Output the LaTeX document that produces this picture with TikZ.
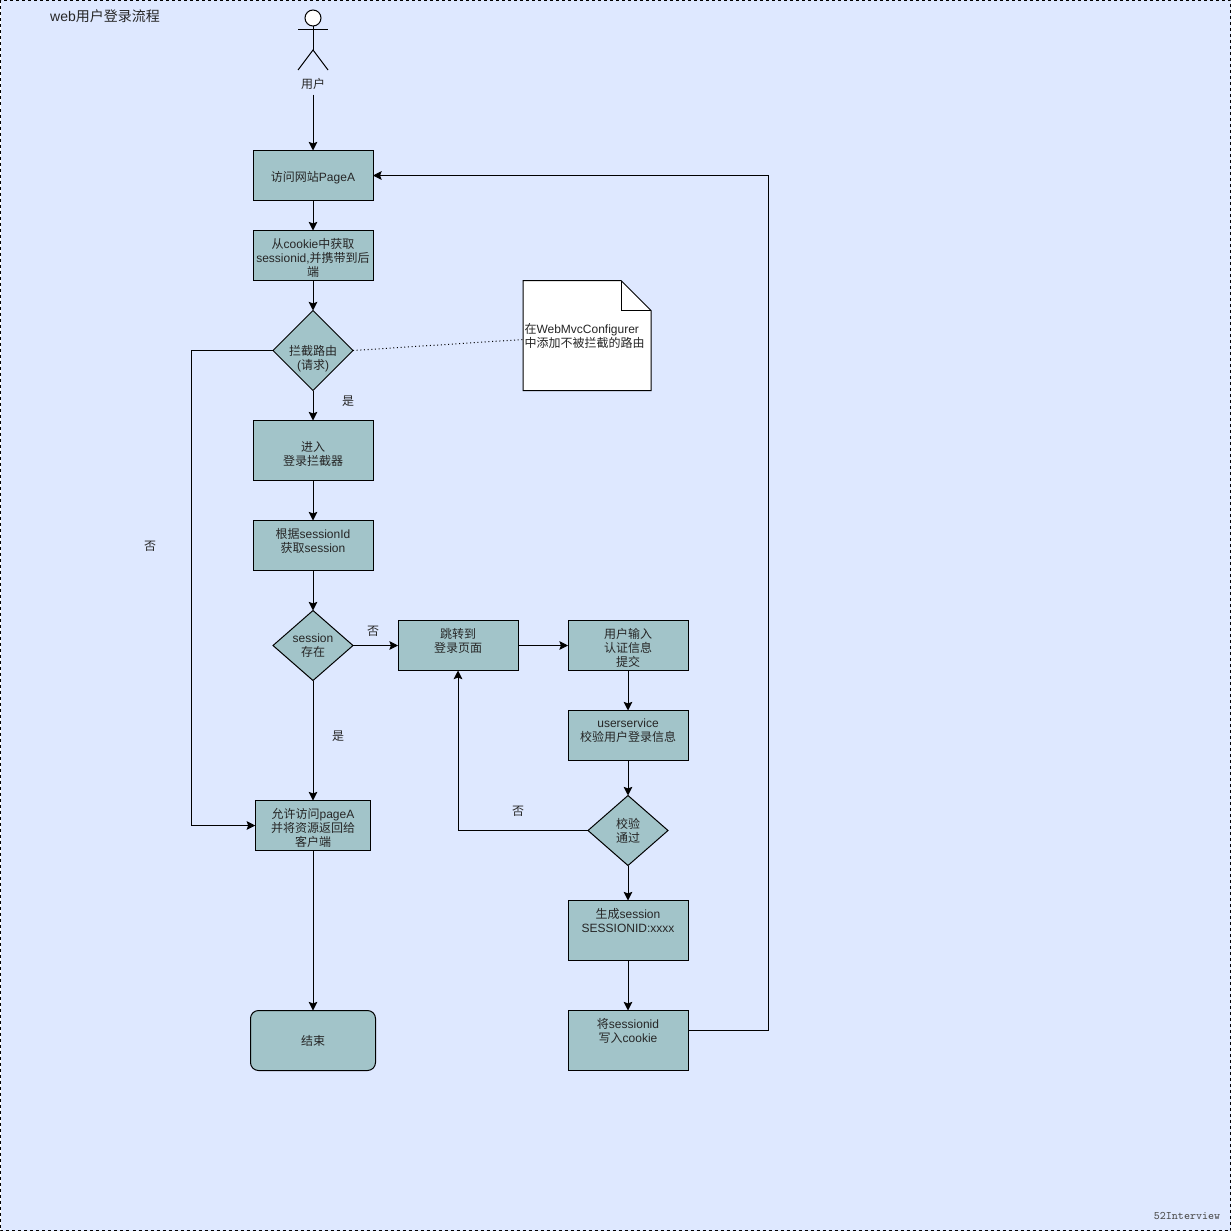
\documentclass[tikz,border=0pt]{standalone}
\usepackage{fontspec}
\setmainfont{Liberation Sans}
\newfontfamily\cjk{Noto Sans CJK SC}
\usetikzlibrary{positioning,shapes,arrows.meta}
\newlength\px
\setlength\px{0.75pt}
\newcommand{\zh}[1]{{\cjk #1}}
\definecolor{boxfill}{HTML}{A2C4C9}
\definecolor{pagefill}{HTML}{DEE8FF}
\definecolor{inktext}{HTML}{262626}
\tikzset{
    tag/.style = {text=inktext, align=center, font=\fontsize{9}{10.5}\selectfont},
    main/.style = {draw, fill=boxfill, outer sep=0pt, line width=1\px, minimum width=120\px, inner sep=0pt},
    gate/.style = {main, diamond, aspect=1, minimum width=80\px, minimum height=80\px}
}

\begin{document}
\begin{tikzpicture}[x=\px, y=-\px, line width=1\px,
    -{Stealth[length=6.5pt,width=6.5pt,inset=1.2pt]}]
    \useasboundingbox (0,0) rectangle (1231,1231);
    \draw [-, fill=pagefill, dash pattern=on 3\px off 3\px] (0.5,0.5) rectangle (1230.5,1230.5);

    \node[tag, font=\fontsize{10.5}{12}\selectfont] (title) at (105,16) {web\zh{用户登录流程}};

    % actor
    \node[circle, draw, fill=white, minimum size=16\px, inner sep=0pt, outer sep=0pt] (head) at (313,18) {};
    \coordinate (hip) at (313,50);
    \coordinate (armL) at (298,30);
    \coordinate (armR) at (328,30);
    \coordinate (legL) at (298,70);
    \coordinate (legR) at (328,70);
    \draw [-] (head) -- (hip);
    \draw [-] (armL) -- (armR);
    \draw [-] (legL) -- (hip) -- (legR);
    \node[tag] (user) at (313,84) {\zh{用户}};

    % left column
    \node[main, minimum height=50\px] (page) at (313,175.5) {};
    \node[tag] (pagetext) at (313,178) {\zh{访问网站}PageA};
    \node[main, minimum height=50\px, below=30\px of page,
        label={[tag, yshift=-2\px]center:{\zh{从}cookie\zh{中获取}\\sessionid,\zh{并携带到后}\\\zh{端}}}] (cookie) {};
    \node[gate, below=30\px of cookie,
        label={[tag, yshift=-8\px]center:{\zh{拦截路由}\\(\zh{请求})}}] (intercept) {};
    \node[main, minimum height=60\px, below=30\px of intercept,
        label={[tag, yshift=-4\px]center:{\zh{进入}\\\zh{登录拦截器}}}] (enter) {};
    \node[main, minimum height=50\px, below=40\px of enter,
        label={[tag, yshift=5\px]center:{\zh{根据}sessionId\\\zh{获取}session}}] (fetch) {};
    \node[gate, minimum height=70\px, below=40\px of fetch,
        label={[tag]center:{session\\\zh{存在}}}] (exists) {};
    \node[main, minimum width=115.5\px, minimum height=50\px, below=120\px of exists,
        label={[tag, yshift=-2\px]center:{\zh{允许访问}pageA\\\zh{并将资源返回给}\\\zh{客户端}}}] (allow) {};
    \node[main, rounded corners=8\px, minimum width=125\px, minimum height=60\px, below=160\px of allow] (finish) {};
    \node[tag] (finishtext) at (finish) {\zh{结束}};

    % right columns
    \node[main, minimum height=50\px, right=45\px of exists,
        label={[tag, yshift=5\px]center:{\zh{跳转到}\\\zh{登录页面}}}] (jump) {};
    \node[main, minimum height=50\px, right=50\px of jump,
        label={[tag, yshift=-2\px]center:{\zh{用户输入}\\\zh{认证信息}\\\zh{提交}}}] (input) {};
    \node[main, minimum height=50\px, below=40\px of input,
        label={[tag, yshift=5\px]center:{userservice\\\zh{校验用户登录信息}}}] (service) {};
    \node[gate, minimum height=70\px, below=35\px of service,
        label={[tag]center:{\zh{校验}\\\zh{通过}}}] (check) {};
    \node[main, minimum height=60\px, below=35\px of check,
        label={[tag, yshift=10\px]center:{\zh{生成}session\\SESSIONID:xxxx}}] (create) {};
    \node[main, minimum height=60\px, below=50\px of create,
        label={[tag, yshift=10\px]center:{\zh{将}sessionid\\\zh{写入}cookie}}] (store) {};

    % note
    \node[outer sep=0pt, inner sep=0pt, minimum width=128\px, minimum height=110\px] (note) at (587,335.5) {};
    \coordinate (foldA) at ([xshift=-30\px]note.north east);
    \coordinate (foldB) at ([yshift=-30\px]note.north east);
    \draw [-, fill=white] (note.north west) -- (foldA) -- (foldB) -- (note.south east) -- (note.south west) -- cycle;
    \draw [-] (foldA) |- (foldB);
    \node[tag, align=left, anchor=west, inner sep=0pt] (notetext) at ([xshift=1\px, yshift=-0.5\px]note.west) {\zh{在}WebMvcConfigurer\\\zh{中添加不被拦截的路由}};
    \coordinate (notein) at ([yshift=-4\px]note.west);
    \draw [-, dotted] (intercept.east) -- (notein);

    % edge labels
    \node[tag] (yes1) at (348,401) {\zh{是}};
    \node[tag] (no1) at (150,546) {\zh{否}};
    \node[tag] (no2) at (373,631) {\zh{否}};
    \node[tag] (yes2) at (338,736) {\zh{是}};
    \node[tag] (no3) at (518,811) {\zh{否}};

    \node[text=black!70, font=\ttfamily\fontsize{8.6}{10}\selectfont] (mark) at (1187,1215.5) {52Interview};

    \coordinate (storeout) at ([yshift=10\px]store.east);

    \draw (user) -- (page);
    \draw (page) -- (cookie);
    \draw (cookie) -- (intercept);
    \draw (intercept) -- (enter);
    \draw (enter) -- (fetch);
    \draw (fetch) -- (exists);
    \draw (exists) -- (allow);
    \draw (allow) -- (finish);
    \draw (intercept.west) -- ++(-82,0) |- (allow.west);
    \draw (exists) -- (jump);
    \draw (jump) -- (input);
    \draw (input) -- (service);
    \draw (service) -- (check);
    \draw (check.west) -| (jump.south);
    \draw (check) -- (create);
    \draw (create) -- (store);
    \draw (storeout) -- ++(80,0) |- (page.east);
\end{tikzpicture}
\end{document}
